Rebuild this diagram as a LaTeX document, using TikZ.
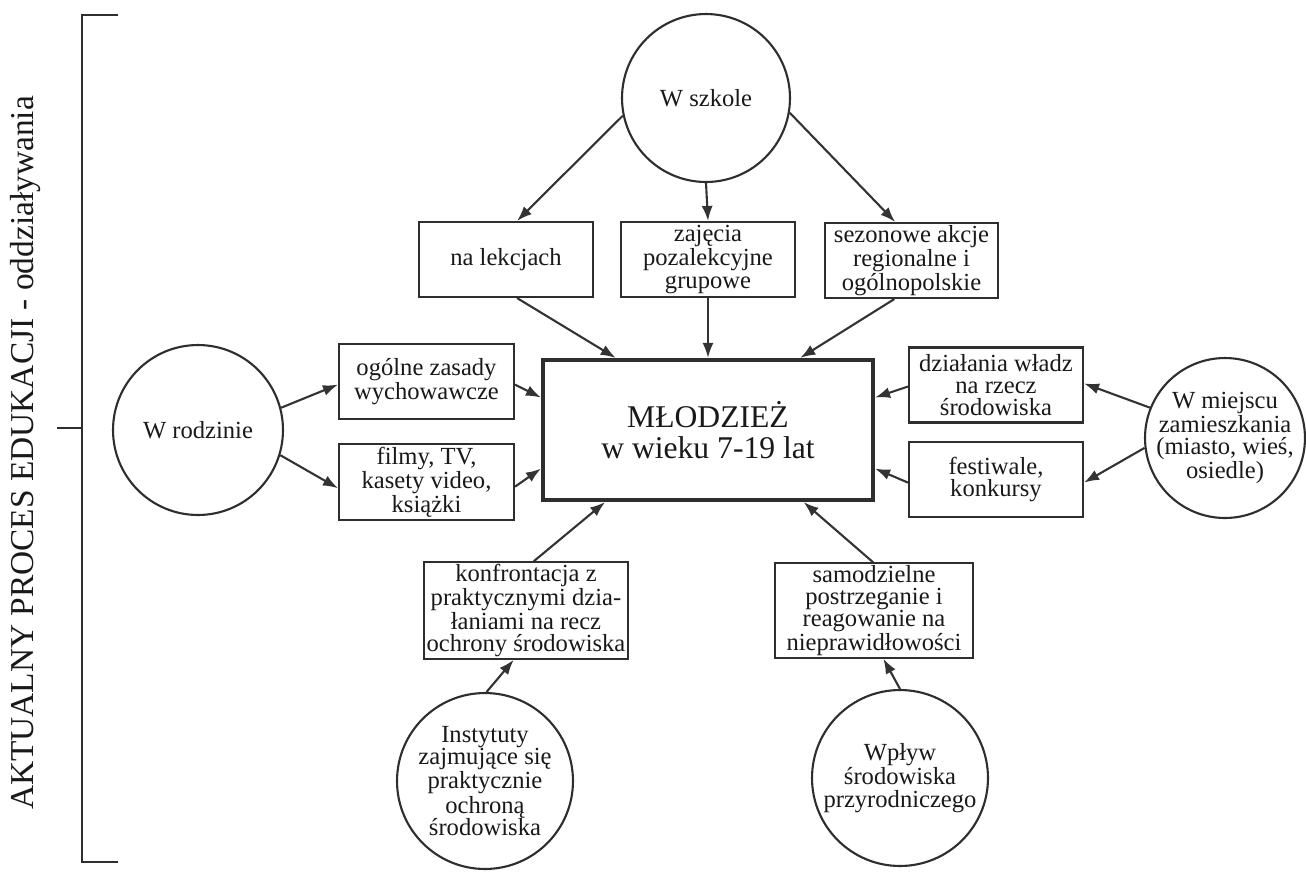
\documentclass[tikz,border=0pt]{standalone}
\usepackage{fontspec}
\setmainfont{Liberation Serif}
\usetikzlibrary{arrows.meta}
\usetikzlibrary{shapes}
\usetikzlibrary{calc}

\begin{document}
\begin{tikzpicture}[x=0.02cm, y=-0.02cm, >={Latex[length=3mm,width=2.2mm]},
  every node/.style={font=\fontsize{14}{12.6}\selectfont, text=black!90},
  box/.style={draw=black!82, line width=1.2pt, align=center, inner sep=1pt, minimum height=1.5cm},
  krag/.style={circle, draw=black!82, line width=1.2pt, align=center, inner sep=-4pt},
  strz/.style={->, draw=black!80, line width=1.2pt}]
\useasboundingbox[fill=white] (0,0) rectangle (1306,873);

%klamra z lewej
\draw[line width=1.2pt, draw=black!82] (118,15) -- (82,15) -- (82,862) -- (118,862);
\draw[line width=1.2pt, draw=black!82] (57,428) -- (82,428);
\node[rotate=90, font=\fontsize{19}{19}\selectfont] (proces) at (26,453) {AKTUALNY PROCES EDUKACJI - oddziaływania};

%kola
\node[krag, minimum size=3.36cm] (szkola) at (706,98) {W szkole};
\node[krag, minimum size=3.4cm] (rodzina) at (198,430) {W rodzinie};
\node[krag, minimum size=3.2cm] (miejsce) at (1225,438) {W miejscu\\zamieszkania\\(miasto, wieś,\\osiedle)};
\node[krag, minimum size=3.52cm] (instytuty) at (485,781) {Instytuty\\zajmujące się\\praktycznie\\ochroną\\środowiska};
\node[krag, minimum size=3.52cm] (wplyw) at (900,778) {Wpływ\\środowiska\\przyrodniczego};

%prostokaty
\node[box, minimum width=3.48cm] (lekcje) at (506,259.5) {na lekcjach};
\node[box, minimum width=3.48cm] (zajecia) at (708,259.5) {zajęcia\\pozalekcyjne\\grupowe};
\node[box, minimum width=3.46cm] (sezonowe) at (911.5,260.5) {sezonowe akcje\\regionalne i\\ogólnopolskie};
\node[box, minimum width=3.5cm] (ogolne) at (426.5,381.5) {ogólne zasady\\wychowawcze};
\node[box, minimum width=3.5cm, minimum height=1.52cm] (filmy) at (426.5,482) {filmy, TV,\\kasety video,\\książki};
\node[box, minimum width=3.48cm] (dzialania) at (996,385) {działania władz\\na rzecz\\środowiska};
\node[box, minimum width=3.48cm] (festiwale) at (996,479.5) {festiwale,\\konkursy};
\node[box, minimum width=4.08cm, minimum height=1.82cm] (konfrontacja) at (526,610.5) {konfrontacja z\\praktycznymi dzia-\\łaniami na recz\\ochrony środowiska};
\node[box, minimum width=3.96cm, minimum height=1.82cm] (samodzielne) at (874,610.5) {samodzielne\\postrzeganie i\\reagowanie na\\nieprawidłowości};
\node[box, line width=2.4pt, minimum width=6.6cm, minimum height=2.8cm, font=\fontsize{18}{17.5}\selectfont] (mlodziez) at (708,430) {MŁODZIEŻ\\w wieku 7-19 lat};

%strzalki
\foreach \a/\b in {szkola.192/lekcje.74, szkola.south/zajecia.north, szkola.350/sezonowe.113,
  lekcje.286/mlodziez.142, zajecia.south/mlodziez.north, sezonowe.246/mlodziez.38,
  rodzina.15/ogolne.182, rodzina.343/filmy.184, ogolne.358/mlodziez.169, filmy.357/mlodziez.193,
  miejsce.158/dzialania.1, miejsce.187/festiwale.358, dzialania.181/mlodziez.11, festiwale.182/mlodziez.347,
  instytuty.89/konfrontacja.256, wplyw.90/samodzielne.281, konfrontacja.81/mlodziez.215, samodzielne.91/mlodziez.323} {
  \draw[strz] (\a) -- (\b);
}
\end{tikzpicture}
\end{document}
